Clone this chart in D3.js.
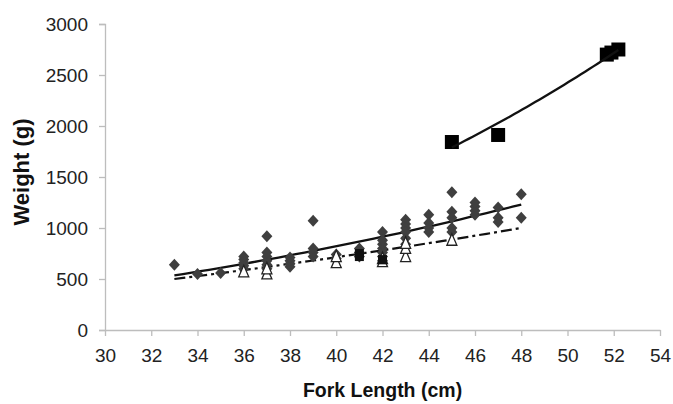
<!DOCTYPE html>
<html>
<head>
<meta charset="utf-8">
<script src="https://cdn.jsdelivr.net/npm/d3@7"></script>
<style>
  html, body { margin: 0; padding: 0; background: #fff; }
  svg { display: block; }
</style>
</head>
<body>
<div id="chart"></div>
<script>
// ---- data ----
const xTicks = [30, 32, 34, 36, 38, 40, 42, 44, 46, 48, 50, 52, 54];
const yTicks = [0, 500, 1000, 1500, 2000, 2500, 3000];

// filled diamonds
const diamondLength = [33, 34, 35,
  36, 36, 36, 36, 36,
  37, 37, 37, 37, 37, 37,
  38, 38, 38, 38,
  39, 39, 39, 39,
  40, 40,
  41, 41, 41,
  42, 42, 42, 42, 42, 42, 42,
  43, 43, 43, 43, 43, 43,
  44, 44, 44, 44,
  45, 45, 45, 45, 45,
  46, 46, 46, 46,
  47, 47, 47,
  48, 48];
const diamondWeight = [640, 550, 560,
  600, 630, 660, 690, 720,
  920, 600, 640, 680, 720, 760,
  620, 650, 680, 710,
  1070, 720, 760, 800,
  700, 740,
  720, 760, 800,
  960, 680, 720, 760, 800, 840, 880,
  1080, 1040, 1000, 960, 900, 840,
  1130, 960, 1000, 1050,
  1350, 1160, 1100, 960, 1000,
  1130, 1170, 1210, 1250,
  1060, 1100, 1200,
  1330, 1100];

// open triangles
const triangleLength = [36, 37, 37, 40, 40, 42, 42, 43, 43, 43, 45];
const triangleWeight = [570, 550, 600, 660, 720, 670, 700, 720, 800, 850, 880];

// small filled squares
const smallSquareLength = [41, 41, 42];
const smallSquareWeight = [720, 750, 690];

// large filled squares
const squareLength = [45, 47, 51.7, 51.9, 52.2];
const squareWeight = [1843, 1912, 2700, 2720, 2750];

// trend lines (power curves) given by their end points
const trendDiamonds = [[33, 535], [48, 1230]];
const trendTriangles = [[33, 500], [48, 1000]];
const trendSquares = [[45, 1790], [52.2, 2745]];

// ---- drawing ----
const W = 673, H = 404;
const svg = d3.select("#chart").append("svg")
  .attr("width", W).attr("height", H);

const x = d3.scaleLinear().domain([30, 54]).range([105, 660]);
const y = d3.scaleLinear().domain([0, 3000]).range([330, 24]);

const axisColor = "#bdbdbd";
const labelColor = "#222";
const font = "Liberation Sans, Arial, sans-serif";

// y axis
const yAxis = svg.append("g").attr("transform", `translate(${x(30)},0)`)
  .call(d3.axisLeft(y).tickValues(yTicks).tickSize(6).tickPadding(11).tickFormat(d3.format("d")));
yAxis.select(".domain").attr("stroke", axisColor).attr("stroke-width", 1.3);
yAxis.selectAll(".tick line").attr("stroke", axisColor).attr("stroke-width", 1.3);
yAxis.selectAll(".tick text").attr("fill", labelColor)
  .style("font-family", font).style("font-size", "19px");

// x axis
const xAxis = svg.append("g").attr("transform", `translate(0,${y(0)})`)
  .call(d3.axisBottom(x).tickValues(xTicks).tickSize(6).tickPadding(13).tickSizeOuter(0));
xAxis.select(".domain").attr("stroke", axisColor).attr("stroke-width", 1.3);
xAxis.selectAll(".tick line").attr("stroke", axisColor).attr("stroke-width", 1.3);
xAxis.selectAll(".tick text").attr("fill", labelColor)
  .style("font-family", font).style("font-size", "19px");

// axis titles
svg.append("text")
  .attr("x", (x(30) + x(54)) / 2).attr("y", 397)
  .attr("text-anchor", "middle")
  .style("font-family", font).style("font-size", "19.5px").style("font-weight", "bold")
  .attr("fill", "#111").text("Fork Length (cm)");

svg.append("text")
  .attr("transform", `translate(29,172) rotate(-90)`)
  .attr("text-anchor", "middle")
  .style("font-family", font).style("font-size", "22px").style("font-weight", "bold")
  .attr("fill", "#111").text("Weight (g)");

// power-curve helper
function powerCurve(ends) {
  const [[x0, y0], [x1, y1]] = ends;
  const b = Math.log(y1 / y0) / Math.log(x1 / x0);
  const a = y0 / Math.pow(x0, b);
  return d3.range(0, 41).map(i => {
    const L = x0 + (x1 - x0) * i / 40;
    return [L, a * Math.pow(L, b)];
  });
}
const line = d3.line().x(d => x(d[0])).y(d => y(d[1]));

// markers
const g = svg.append("g");

g.selectAll(".dia").data(d3.zip(diamondLength, diamondWeight)).join("path")
  .attr("class", "dia")
  .attr("transform", d => `translate(${x(d[0])},${y(d[1])})`)
  .attr("d", "M0,-6 L5.5,0 L0,6 L-5.5,0 Z")
  .attr("fill", "#3f3f3f");

g.selectAll(".tri").data(d3.zip(triangleLength, triangleWeight)).join("path")
  .attr("class", "tri")
  .attr("transform", d => `translate(${x(d[0])},${y(d[1])})`)
  .attr("d", "M0,-6.5 L5,5 L-5,5 Z")
  .attr("fill", "#fff").attr("stroke", "#222").attr("stroke-width", 1.3);

g.selectAll(".sq").data(d3.zip(smallSquareLength, smallSquareWeight)).join("rect")
  .attr("class", "sq")
  .attr("x", d => x(d[0]) - 4.5).attr("y", d => y(d[1]) - 4.5)
  .attr("width", 9).attr("height", 9).attr("fill", "#111");

// trend lines
svg.append("path").datum(powerCurve(trendTriangles))
  .attr("d", line).attr("fill", "none").attr("stroke", "#111")
  .attr("stroke-width", 2.2).attr("stroke-dasharray", "11,4,3,4");
svg.append("path").datum(powerCurve(trendDiamonds))
  .attr("d", line).attr("fill", "none").attr("stroke", "#111").attr("stroke-width", 2.3);

g.raise();

svg.selectAll(".bigsq").data(d3.zip(squareLength, squareWeight)).join("rect")
  .attr("class", "bigsq")
  .attr("x", d => x(d[0]) - 7).attr("y", d => y(d[1]) - 7)
  .attr("width", 14).attr("height", 14).attr("fill", "#000");

svg.append("path").datum(powerCurve(trendSquares))
  .attr("d", line).attr("fill", "none").attr("stroke", "#111").attr("stroke-width", 2.3);
</script>
</body>
</html>
